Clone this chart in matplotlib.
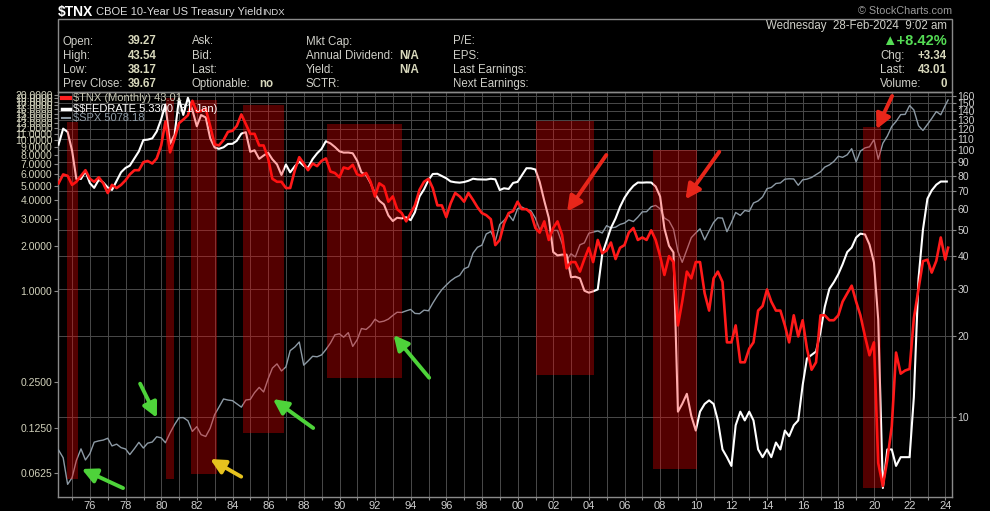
import numpy as np
import matplotlib
matplotlib.use('Agg')
import matplotlib.pyplot as plt
from matplotlib.lines import Line2D
from matplotlib.patches import Rectangle
from matplotlib.ticker import FixedLocator, FixedFormatter, NullLocator

plt.rcParams['font.family'] = ['Liberation Sans', 'DejaVu Sans']

# quarter-end positions 1974..2023 as decimal years
quarter_years = np.repeat(np.arange(1974, 2024), 4) + np.tile([0.23, 0.49, 0.74, 0.99], 50)
tnx_dates = np.append(quarter_years, 2024.15)
fed_dates = np.append(quarter_years, 2024.08)
spx_dates = np.append(quarter_years, 2024.15)

# $TNX (10-year yield x10), quarterly
tnx = [75, 81, 80, 74,   76, 80, 84, 78,   76, 79, 75, 69,   74, 72, 74, 77,
       81, 84, 84, 90,   91, 89, 93, 104,  128, 98, 110, 126, 130, 135, 153, 139,
       140, 143, 123, 105, 104, 109, 117, 118, 123, 136, 125, 115, 115, 104, 104, 93,
       78, 76, 76, 72,   72, 84, 94, 89,   84, 89, 87, 91,   93, 83, 82, 79,
       86, 85, 88, 81,   80, 82, 76, 67,   75, 73, 64, 67,   60, 58, 54, 58,
       62, 71, 76, 78,   72, 62, 62, 56,   63, 69, 67, 64,   69, 65, 61, 58,
       57, 55, 44, 46,   53, 58, 59, 64,   60, 60, 58, 51,   49, 54, 46, 51,
       54, 48, 36, 38,   38, 35, 39, 43,   38, 46, 41, 42,   45, 39, 43, 44,
       49, 51, 46, 47,   46, 50, 46, 40,   34, 40, 38, 22,   27, 35, 33, 38,
       38, 29, 25, 33,   35, 32, 19, 19,   22, 16, 16, 18,   19, 25, 26, 30,
       27, 25, 25, 22,   19, 24, 20, 23,   18, 15, 16, 24,   24, 23, 23, 24,
       27, 29, 31, 27,   24, 20, 17, 19,   6.7, 5.5, 6.9, 9.2, 17.4, 14.5, 14.9, 15.1,
       23.4, 30.1, 38.3, 38.8, 34.7, 38.4, 47.0, 38.8, 43.01]

# $$FEDRATE (effective fed funds, %), quarterly
fedrate = [9.35, 11.93, 11.34, 8.53, 5.54, 5.55, 6.24, 5.20, 4.84, 5.48, 5.25, 4.87,
           4.69, 5.39, 6.14, 6.56, 6.79, 7.60, 8.45, 10.03, 10.09, 10.29, 11.43, 13.78,
           17.19, 9.47, 10.87, 18.90, 14.70, 19.10, 15.87, 12.37, 14.68, 14.15, 10.31, 8.95,
           8.77, 8.98, 9.45, 9.47, 9.91, 11.06, 11.30, 8.38, 8.58, 7.53, 7.92, 8.27,
           7.48, 6.92, 5.89, 6.91, 6.13, 6.73, 7.22, 6.77, 6.58, 7.51, 8.19, 8.76,
           9.85, 9.53, 9.02, 8.45, 8.28, 8.29, 8.20, 7.31, 6.12, 5.90, 5.21, 4.43,
           3.98, 3.76, 3.18, 2.92, 3.07, 3.04, 3.09, 2.96, 3.34, 4.25, 4.73, 5.45,
           5.98, 6.00, 5.80, 5.60, 5.34, 5.27, 5.24, 5.29, 5.39, 5.56, 5.51, 5.50,
           5.49, 5.56, 5.51, 4.68, 4.81, 4.76, 5.22, 5.30, 5.85, 6.53, 6.52, 6.40,
           5.31, 3.97, 3.07, 1.82, 1.73, 1.75, 1.75, 1.24, 1.25, 1.22, 1.01, 0.98,
           1.00, 1.03, 1.76, 2.16, 2.63, 3.04, 3.62, 4.16, 4.59, 4.99, 5.25, 5.24,
           5.26, 5.25, 4.94, 4.24, 2.61, 2.00, 1.81, 0.16, 0.18, 0.21, 0.15, 0.12,
           0.16, 0.18, 0.19, 0.18, 0.14, 0.09, 0.08, 0.07, 0.13, 0.16, 0.14, 0.16,
           0.14, 0.09, 0.08, 0.09, 0.08, 0.10, 0.09, 0.12, 0.11, 0.13, 0.14, 0.24,
           0.36, 0.38, 0.40, 0.54, 0.79, 1.04, 1.15, 1.30, 1.51, 1.82, 1.95, 2.27,
           2.41, 2.38, 2.04, 1.55, 0.65, 0.05, 0.09, 0.09, 0.07, 0.08, 0.08, 0.08,
           0.20, 1.21, 2.56, 4.10, 4.65, 5.08, 5.33, 5.33, 5.33]

# $SPX, quarterly closes
spx = [93.98, 86.0, 63.54, 68.56, 83.36, 95.19, 83.87, 90.19, 102.77, 104.28, 105.24, 107.46,
       98.42, 100.48, 96.53, 95.10, 89.21, 95.53, 102.54, 96.11, 101.59, 102.91, 109.32, 107.94,
       102.09, 114.24, 125.46, 135.76, 136.00, 131.21, 116.18, 122.55, 111.96, 109.61, 120.42, 140.64,
       152.96, 168.11, 166.07, 164.93, 159.18, 153.18, 166.10, 167.24, 180.66, 191.85, 182.08, 211.28,
       238.90, 250.84, 231.32, 242.17, 291.70, 304.00, 321.83, 247.08, 258.89, 273.50, 271.91, 277.72,
       294.87, 317.98, 349.15, 353.40, 339.94, 358.02, 306.05, 330.22, 375.22, 371.16, 387.86, 417.09,
       403.69, 408.14, 417.80, 435.71, 451.67, 450.53, 458.93, 466.45, 445.77, 444.27, 462.69, 459.27,
       500.71, 544.75, 584.41, 615.93, 645.50, 670.63, 687.31, 740.74, 757.12, 885.14, 947.28, 970.43,
       1101.75, 1133.84, 1017.01, 1229.23, 1286.37, 1372.71, 1282.71, 1469.25,
       1498.58, 1454.60, 1436.51, 1320.28, 1160.33, 1224.42, 1040.94, 1148.08,
       1147.39, 989.82, 815.28, 879.82, 848.18, 974.50, 995.97, 1111.92,
       1126.21, 1140.84, 1114.58, 1211.92, 1180.59, 1191.33, 1228.81, 1248.29,
       1294.83, 1270.20, 1335.85, 1418.30, 1420.86, 1503.35, 1526.75, 1468.36,
       1322.70, 1280.00, 1166.36, 903.25, 797.87, 919.32, 1057.08, 1115.10,
       1169.43, 1030.71, 1141.20, 1257.64, 1325.83, 1320.64, 1131.42, 1257.60,
       1408.47, 1362.16, 1440.67, 1426.19, 1569.19, 1606.28, 1681.55, 1848.36,
       1872.34, 1960.23, 1972.29, 2058.90, 2067.89, 2063.11, 1920.03, 2043.94,
       2059.74, 2098.86, 2168.27, 2238.83, 2362.72, 2423.41, 2519.36, 2673.61,
       2640.87, 2718.37, 2913.98, 2506.85, 2834.40, 2941.76, 2976.74, 3230.78,
       2584.59, 3100.29, 3363.00, 3756.07, 3972.89, 4297.50, 4307.54, 4766.18,
       4530.41, 3785.38, 3585.62, 3839.50, 4109.31, 4450.38, 4288.05, 4769.83, 5078.18]

# shaded periods: start year, end year, bottom/top as axes fraction
shade_start = [1974.69, 1980.27, 1981.67, 1984.59, 1989.29, 2001.04, 2007.57, 2019.40]
shade_end = [1975.31, 1980.72, 1983.11, 1986.89, 1993.50, 2004.26, 2010.04, 2020.40]
shade_low = [0.044, 0.044, 0.057, 0.158, 0.295, 0.301, 0.068, 0.021]
shade_high = [0.927, 0.985, 0.980, 0.968, 0.921, 0.928, 0.858, 0.913]

# annotation arrows (year, $TNX scale): tail -> head
arrow_tail = [(1977.85, 5.40), (1978.81, 13.3), (1988.52, 9.07), (1995.03, 14.0),
              (1984.48, 5.96), (2004.97, 95.8), (2011.31, 98.5), (2021.01, 159.4)]
arrow_head = [(1975.53, 6.37), (1979.75, 9.9), (1986.26, 11.65), (1993.03, 20.25),
              (1982.74, 6.94), (2002.77, 58.7), (2009.41, 65.3), (2020.13, 119.6)]
arrow_colors = ['#4ed33a'] * 4 + ['#e6c21e'] + ['#e8261a'] * 3

fed_ticks = [0.0625, 0.125, 0.25, 1, 2, 3, 4, 5, 6, 7, 8, 9, 10,
             11, 12, 13, 14, 15, 16, 17, 18, 19, 20]
tnx_ticks = [10, 20, 30, 40, 50, 60, 70, 80, 90, 100, 110, 120, 130, 140, 150, 160]
year_ticks = list(range(1976, 2025, 2))

W_PX, H_PX = 990, 511
fig = plt.figure(figsize=(9.9, 5.11), dpi=100, facecolor='black')


def fx(x):
    return x / W_PX


def fy(y):
    return 1 - y / H_PX


ax = fig.add_axes([fx(58), fy(497), (952 - 58) / W_PX, (497 - 92) / H_PX])
ax.set_facecolor('black')
ax_spx = ax.twinx()
ax_fed = ax.twinx()
ax_top = ax.twinx()

ax.set_xlim(1974.2, 2024.37)
for a in (ax, ax_top):
    a.set_yscale('log')
    a.set_ylim(5.0, 165)
ax_fed.set_yscale('log')
ax_fed.set_ylim(0.0436, 20.85)
ax_spx.set_yscale('log')
ax_spx.set_ylim(55, 5560)

# lines
ax_spx.plot(spx_dates, spx, color='#8d9aa5', lw=1.0)
ax_fed.plot(fed_dates, fedrate, color='white', lw=1.5)
ax_top.plot(tnx_dates, tnx, color='#ff1a1a', lw=1.9)

for x0, x1, lo, hi in zip(shade_start, shade_end, shade_low, shade_high):
    ax_top.axvspan(x0, x1, ymin=lo, ymax=hi, color='#ff0000', alpha=0.33, lw=0, zorder=5)

for tail, head, c in zip(arrow_tail, arrow_head, arrow_colors):
    ax_top.annotate('', xy=head, xytext=tail, zorder=6,
                    arrowprops=dict(arrowstyle='-|>', color=c, lw=2.8,
                                    mutation_scale=22, shrinkA=0, shrinkB=0))

# axes styling
for a in (ax_spx, ax_fed, ax_top):
    for s in a.spines.values():
        s.set_visible(False)
    a.yaxis.set_minor_locator(NullLocator())
ax_spx.yaxis.set_visible(False)
ax_top.yaxis.set_visible(False)

ax.yaxis.tick_right()
ax.yaxis.set_major_locator(FixedLocator(tnx_ticks))
ax.yaxis.set_major_formatter(FixedFormatter([str(t) for t in tnx_ticks]))
ax.yaxis.set_minor_locator(NullLocator())
ax.tick_params(axis='y', which='major', colors='#8a8a8a', labelcolor='#cfcfcf',
               labelsize=7.5, length=3, width=0.8, pad=1, direction='out')

ax_fed.yaxis.tick_left()
ax_fed.yaxis.set_major_locator(FixedLocator(fed_ticks))
ax_fed.yaxis.set_major_formatter(FixedFormatter(['%.4f' % t for t in fed_ticks]))
ax_fed.tick_params(axis='y', colors='#8a8a8a', labelcolor='#d2d2bc',
                   labelsize=7.5, length=3, width=0.8, pad=1)

ax.set_xticks(year_ticks)
ax.set_xticklabels(['%02d' % (y % 100) for y in year_ticks])
ax.set_xticks(range(1975, 2025), minor=True)
ax.tick_params(axis='x', which='both', colors='#8a8a8a', labelcolor='#cfcfcf',
               labelsize=8, length=2, width=0.8, pad=1)

ax.grid(True, which='both', axis='x', color='#4a4a4a', lw=0.7)
ax.grid(True, which='major', axis='y', color='#4a4a4a', lw=0.7)
for s in ax.spines.values():
    s.set_color('#8a8a8a')
    s.set_linewidth(1.0)

# in-chart legend
legend_rows = [('$TNX (Monthly) 43.01', '#ff2020', '#c8c8b4', 0.984, 3.0),
               ('$$FEDRATE 5.3300 (31 Jan)', 'white', 'white', 0.958, 2.5),
               ('$SPX 5078.18', '#8d9aa5', '#8d9aa5', 0.935, 1.5)]
for label, lc, tc, yy, lw in legend_rows:
    ax_top.add_line(Line2D([0.005, 0.0135], [yy, yy], transform=ax_top.transAxes,
                           color=lc, lw=lw, zorder=7))
    ax_top.text(0.017, yy, label, transform=ax_top.transAxes, color=tc, fontsize=8,
                va='center', ha='left', parse_math=False, zorder=7)

# header: title and info panel
fig.text(fx(58), fy(12), '$TNX', color='white', fontsize=10, fontweight='bold',
         va='center', parse_math=False)
fig.text(fx(96), fy(12), 'CBOE 10-Year US Treasury Yield', color='#dcdcdc', fontsize=8,
         va='center')
fig.text(fx(262), fy(12.5), 'INDX', color='#dcdcdc', fontsize=6.8, va='center')
fig.text(fx(952), fy(11), '\u00a9 StockCharts.com', color='#9a9a9a', fontsize=7.8,
         va='center', ha='right')
fig.patches.append(Rectangle((fx(58), fy(92)), (952 - 58) / W_PX, (92 - 19) / H_PX,
                             transform=fig.transFigure, fill=False, ec='#8a8a8a', lw=1.0))

lab_c, val_c = '#cfcfc8', '#d8d8bc'
fs = 8.3
row_y = [41.5, 55.8, 69.8, 84.0]
info_labels = [['Open:', 'High:', 'Low:', 'Prev Close:'],
               ['Ask:', 'Bid:', 'Last:', 'Optionable:'],
               ['Mkt Cap:', 'Annual Dividend:', 'Yield:', 'SCTR:'],
               ['P/E:', 'EPS:', 'Last Earnings:', 'Next Earnings:']]
col_x = [63, 192, 306, 453]
for cx, labels in zip(col_x, info_labels):
    for ry, lab in zip(row_y, labels):
        fig.text(fx(cx), fy(ry), lab, color=lab_c, fontsize=fs, va='center')
for ry, v in zip(row_y, ['39.27', '43.54', '38.17', '39.67']):
    fig.text(fx(128), fy(ry), v, color=val_c, fontsize=fs, fontweight='bold', va='center')
fig.text(fx(259), fy(row_y[3]), 'no', color=val_c, fontsize=fs, fontweight='bold', va='center')
for ry in row_y[1:3]:
    fig.text(fx(419), fy(ry), 'N/A', color=val_c, fontsize=fs, fontweight='bold',
             va='center', ha='right')

fig.text(fx(947), fy(26), 'Wednesday  28-Feb-2024  9:02 am', color=lab_c, fontsize=fs,
         va='center', ha='right')
fig.text(fx(947), fy(41), '\u25b2+8.42%', color='#55dd55', fontsize=10.5, fontweight='bold',
         va='center', ha='right')
for ry, lab, v in zip(row_y[1:], ['Chg:', 'Last:', 'Volume:'], ['+3.34', '43.01', '0']):
    fig.text(fx(880), fy(ry), lab, color=lab_c, fontsize=fs, va='center')
    fig.text(fx(947), fy(ry), v, color=val_c, fontsize=fs, fontweight='bold',
             va='center', ha='right')

fig.savefig('out.png', dpi=100, facecolor='black')
